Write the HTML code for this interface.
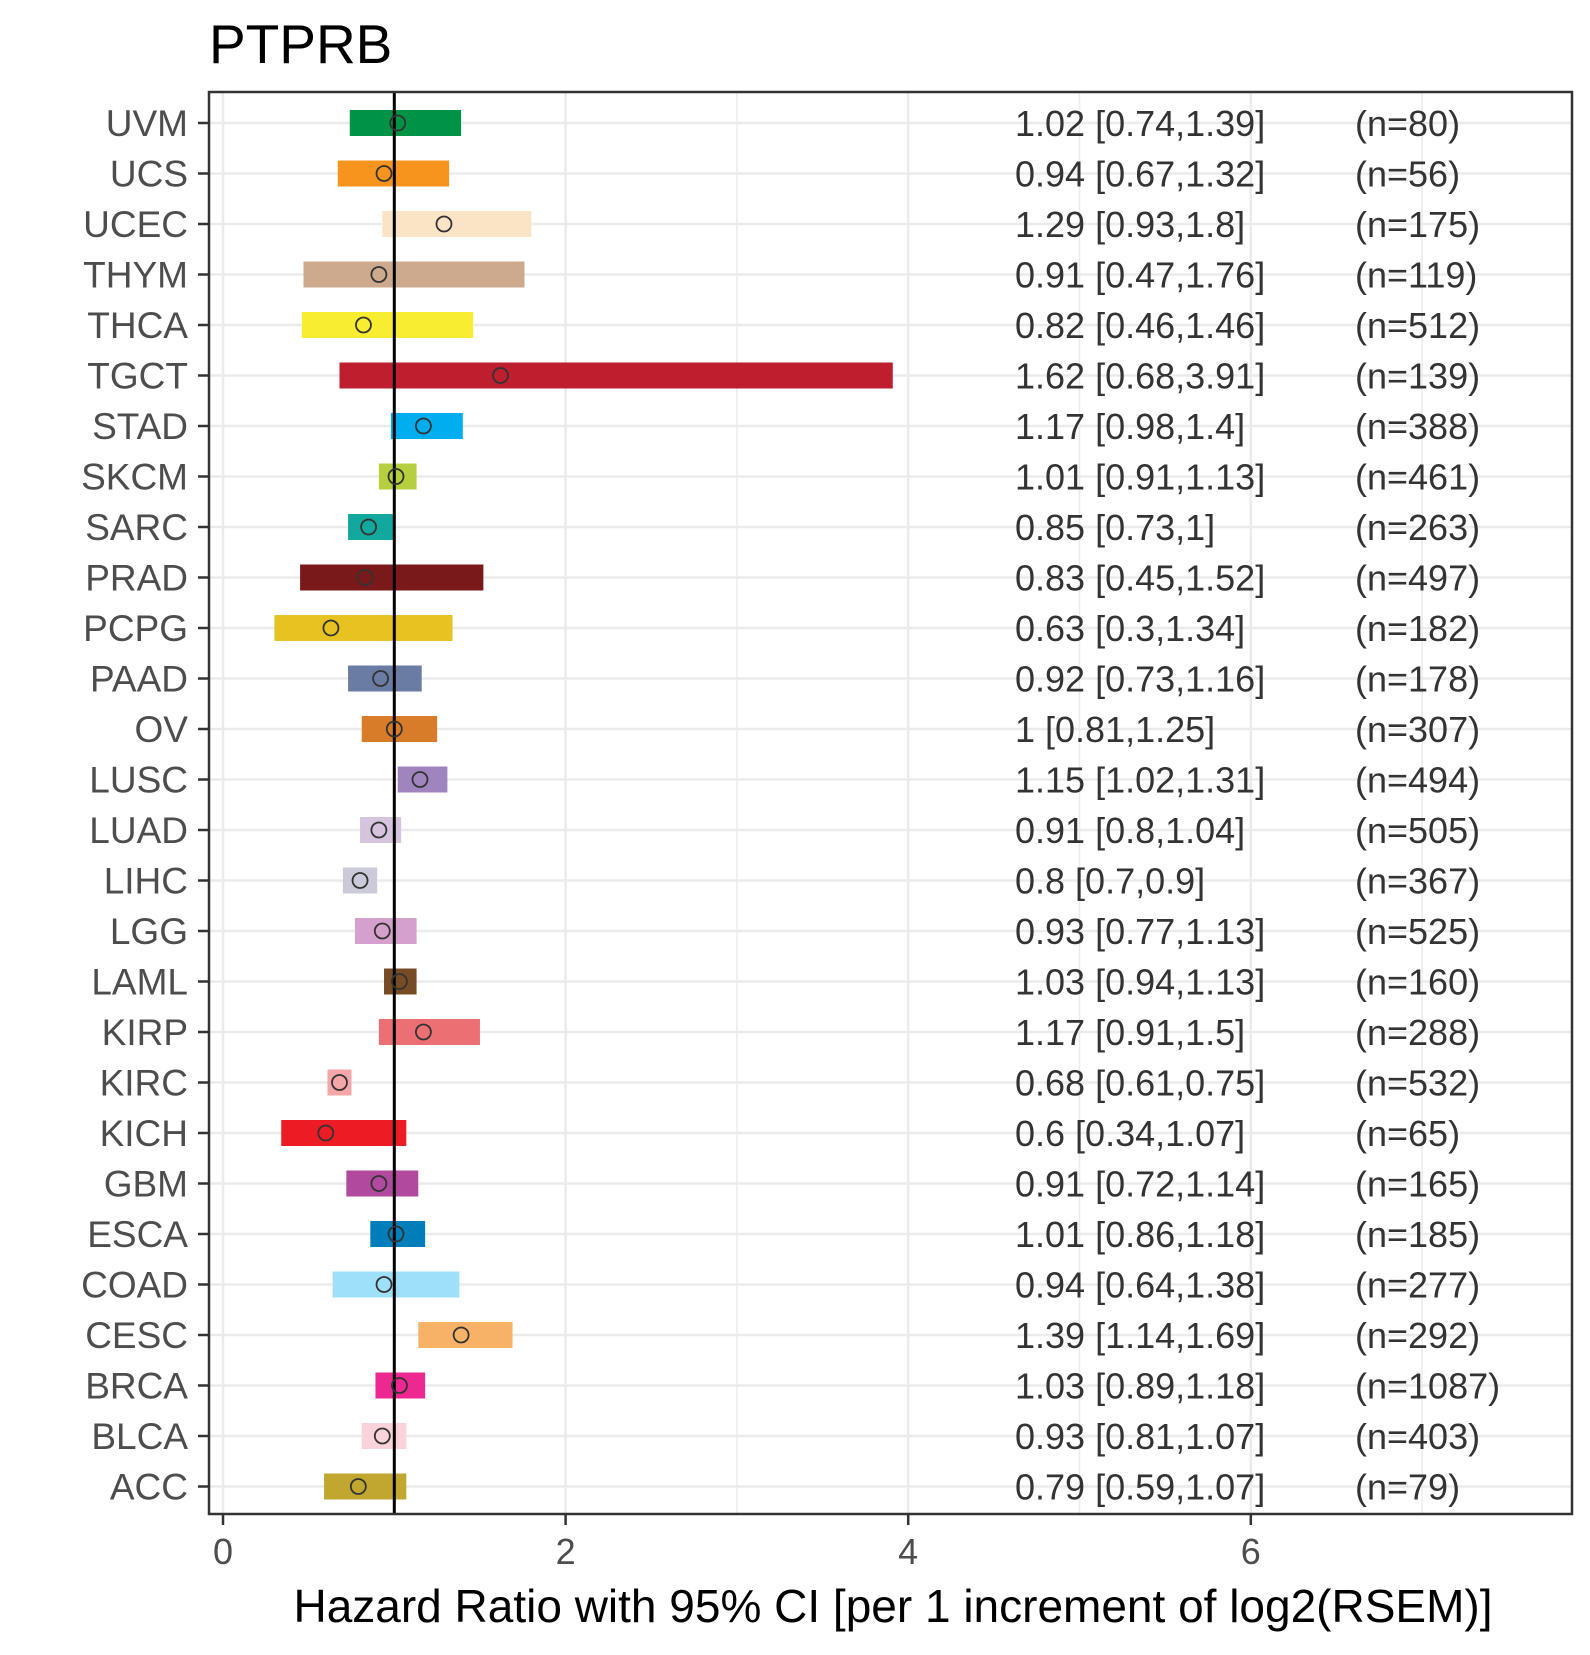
<!DOCTYPE html>
<html><head><meta charset="utf-8"><style>
html,body{margin:0;padding:0;background:#fff;}
svg text{font-family:"Liberation Sans",Arial,sans-serif;}
</style></head><body>
<svg id="chart" width="1590" height="1650" xmlns="http://www.w3.org/2000/svg">
<rect x="0" y="0" width="1590" height="1650" fill="#fff"/>
<text x="209" y="63" font-size="55" fill="#000">PTPRB</text>
<g id="grid"></g>
<g id="marks"></g>
<g id="labels"></g>
<rect x="209" y="92" width="1363" height="1422" fill="none" stroke="#333" stroke-width="2.5"/>
<text x="893" y="1622" font-size="46" text-anchor="middle" fill="#000">Hazard Ratio with 95% CI [per 1 increment of log2(RSEM)]</text>
</svg>
<script>
const cancers = ["UVM","UCS","UCEC","THYM","THCA","TGCT","STAD","SKCM","SARC","PRAD","PCPG","PAAD","OV","LUSC","LUAD","LIHC","LGG","LAML","KIRP","KIRC","KICH","GBM","ESCA","COAD","CESC","BRCA","BLCA","ACC"];
const hr = [1.02,0.94,1.29,0.91,0.82,1.62,1.17,1.01,0.85,0.83,0.63,0.92,1,1.15,0.91,0.8,0.93,1.03,1.17,0.68,0.6,0.91,1.01,0.94,1.39,1.03,0.93,0.79];
const lower = [0.74,0.67,0.93,0.47,0.46,0.68,0.98,0.91,0.73,0.45,0.3,0.73,0.81,1.02,0.8,0.7,0.77,0.94,0.91,0.61,0.34,0.72,0.86,0.64,1.14,0.89,0.81,0.59];
const upper = [1.39,1.32,1.8,1.76,1.46,3.91,1.4,1.13,1,1.52,1.34,1.16,1.25,1.31,1.04,0.9,1.13,1.13,1.5,0.75,1.07,1.14,1.18,1.38,1.69,1.18,1.07,1.07];
const hrLabels = ["1.02 [0.74,1.39]","0.94 [0.67,1.32]","1.29 [0.93,1.8]","0.91 [0.47,1.76]","0.82 [0.46,1.46]","1.62 [0.68,3.91]","1.17 [0.98,1.4]","1.01 [0.91,1.13]","0.85 [0.73,1]","0.83 [0.45,1.52]","0.63 [0.3,1.34]","0.92 [0.73,1.16]","1 [0.81,1.25]","1.15 [1.02,1.31]","0.91 [0.8,1.04]","0.8 [0.7,0.9]","0.93 [0.77,1.13]","1.03 [0.94,1.13]","1.17 [0.91,1.5]","0.68 [0.61,0.75]","0.6 [0.34,1.07]","0.91 [0.72,1.14]","1.01 [0.86,1.18]","0.94 [0.64,1.38]","1.39 [1.14,1.69]","1.03 [0.89,1.18]","0.93 [0.81,1.07]","0.79 [0.59,1.07]"];
const nLabels = ["(n=80)","(n=56)","(n=175)","(n=119)","(n=512)","(n=139)","(n=388)","(n=461)","(n=263)","(n=497)","(n=182)","(n=178)","(n=307)","(n=494)","(n=505)","(n=367)","(n=525)","(n=160)","(n=288)","(n=532)","(n=65)","(n=165)","(n=185)","(n=277)","(n=292)","(n=1087)","(n=403)","(n=79)"];
const colors = ["#009245","#F7941D","#FBE3C6","#CDAA8D","#F9ED32","#BE1E2D","#00AEEF","#B5CF3F","#13A89E","#7A1919","#E6C320","#6B7CA4","#D97C2A","#A084BD","#D6C4DF","#CACAD9","#D3A1CB","#754C24","#EC6F73","#F4A6A8","#ED1C24","#B14A9E","#007EB9","#9EDFF9","#F7B267","#ED2891","#FAD2D9","#C1A72F"];
const xTicks = [0,2,4,6];

const NS = "http://www.w3.org/2000/svg";
const PL = 209, PR = 1572, PT = 92, PB = 1514;
const xs = v => 223 + v * 171.3;
const ys = i => 123 + i * 50.5;
function mk(tag, attrs, parent){const e=document.createElementNS(NS,tag);for(const k in attrs)e.setAttribute(k,attrs[k]);parent.appendChild(e);return e;}
const grid=document.getElementById('grid'), marks=document.getElementById('marks'), labels=document.getElementById('labels');
for(let v=0; v<=7; v++){
  const l=mk('line',{x1:xs(v),x2:xs(v),y1:PT,y2:PB,stroke:'#ebebeb','stroke-width':(v%2===0)?2.5:1.5},grid);
  
  
}
cancers.forEach((c,i)=>{
  const y=ys(i);
  const g=mk('line',{x1:PL,x2:PR,y1:y,y2:y,stroke:'#ebebeb','stroke-width':2.5},grid);
  
  
  const r=mk('rect',{x:xs(lower[i]),y:y-13,width:xs(upper[i])-xs(lower[i]),height:26,fill:colors[i]},marks);
  
  
  const t=mk('line',{x1:PL-11,x2:PL,y1:y,y2:y,stroke:'#333','stroke-width':2.5},labels);
  
  
  const lb=mk('text',{x:188,y:y+13,'font-size':37,'text-anchor':'end',fill:'#4d4d4d'},labels);
  lb.textContent=c;
  
  
  const h=mk('text',{x:1015,y:y+13,'font-size':36,fill:'#333'},labels);
  h.textContent=hrLabels[i];
  
  
  const n=mk('text',{x:1355,y:y+13,'font-size':36,fill:'#333'},labels);
  n.textContent=nLabels[i];
  
  
});
const ref=mk('line',{x1:xs(1),x2:xs(1),y1:PT,y2:PB,stroke:'#000','stroke-width':3},marks);


cancers.forEach((c,i)=>{
  const p=mk('circle',{cx:xs(hr[i]),cy:ys(i),r:7.5,fill:'none',stroke:'#333','stroke-width':1.8},marks);
  
  
});
xTicks.forEach(v=>{
  const t=mk('line',{x1:xs(v),x2:xs(v),y1:PB,y2:PB+11,stroke:'#333','stroke-width':2.5},labels);
  
  
  const l=mk('text',{x:xs(v),y:1564,'font-size':36,'text-anchor':'middle',fill:'#4d4d4d'},labels);
  l.textContent=String(v);
  
  
});
</script>
</body></html>
